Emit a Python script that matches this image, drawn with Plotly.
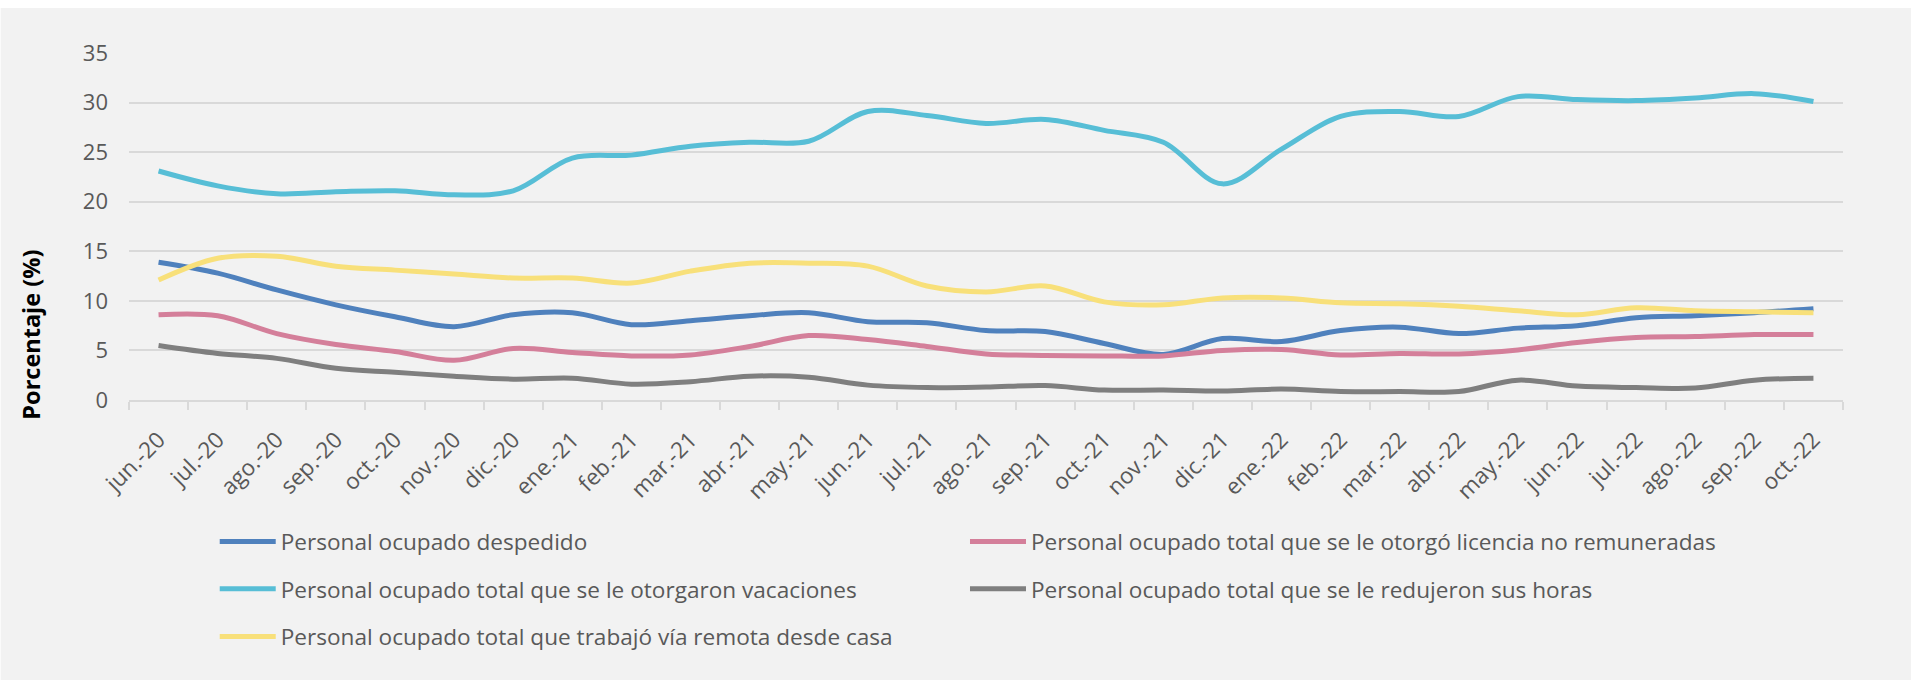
import plotly.graph_objects as go

months = ["jun.-20", "jul.-20", "ago.-20", "sep.-20", "oct.-20", "nov.-20", "dic.-20",
          "ene.-21", "feb.-21", "mar.-21", "abr.-21", "may.-21", "jun.-21", "jul.-21",
          "ago.-21", "sep.-21", "oct.-21", "nov.-21", "dic.-21", "ene.-22", "feb.-22",
          "mar.-22", "abr.-22", "may.-22", "jun.-22", "jul.-22", "ago.-22", "sep.-22", "oct.-22"]

despedido = [13.9, 12.8, 11.1, 9.6, 8.4, 7.4, 8.6, 8.8, 7.6, 8.0, 8.5, 8.8, 7.9, 7.8, 7.0,
             6.9, 5.7, 4.6, 6.2, 5.9, 7.0, 7.35, 6.7, 7.25, 7.5, 8.3, 8.5, 8.8, 9.2]
licencia = [8.6, 8.5, 6.7, 5.6, 4.9, 4.0, 5.2, 4.8, 4.45, 4.55, 5.4, 6.5, 6.1, 5.4, 4.65,
            4.5, 4.45, 4.45, 5.0, 5.1, 4.55, 4.7, 4.65, 5.05, 5.8, 6.3, 6.4, 6.6, 6.6]
vacaciones = [23.1, 21.6, 20.8, 21.0, 21.1, 20.7, 21.1, 24.4, 24.7, 25.6, 26.0, 26.1, 29.1,
              28.7, 27.9, 28.3, 27.2, 26.0, 21.8, 25.3, 28.6, 29.1, 28.6, 30.6, 30.3, 30.2,
              30.45, 30.9, 30.1]
horas = [5.5, 4.7, 4.2, 3.2, 2.8, 2.4, 2.1, 2.2, 1.6, 1.85, 2.4, 2.3, 1.5, 1.25, 1.3,
         1.45, 1.0, 1.0, 0.9, 1.1, 0.85, 0.85, 0.85, 2.0, 1.4, 1.25, 1.2, 2.0, 2.2]
remota = [12.1, 14.3, 14.5, 13.5, 13.1, 12.7, 12.3, 12.3, 11.8, 13.0, 13.8, 13.8, 13.5,
          11.5, 10.9, 11.5, 9.9, 9.6, 10.3, 10.3, 9.8, 9.7, 9.45, 9.0, 8.6, 9.3, 9.0, 8.9, 8.8]

series = [
    ("Personal ocupado despedido", despedido, "#4F81BD", "legend"),
    ("Personal ocupado total que se le otorgó licencia no remuneradas", licencia, "#D47F9A", "legend2"),
    ("Personal ocupado total que se le otorgaron vacaciones", vacaciones, "#57BED6", "legend3"),
    ("Personal ocupado total que se le redujeron sus horas", horas, "#7F7F7F", "legend4"),
    ("Personal ocupado total que trabajó vía remota desde casa", remota, "#F8E07A", "legend5"),
]

# pixel geometry helpers (figure 1911x680)
PL, PR, PT, PB = 129.3, 1842.7, 53.0, 400.0
def xp(px):
    return (px - PL) / (PR - PL)
def yp(py):
    return (PB - py) / (PB - PT)

fig = go.Figure()
for name, vals, color, lg in series:
    fig.add_trace(go.Scatter(
        x=months, y=vals, name=name, mode="lines",
        line=dict(color=color, width=5, shape="spline", smoothing=1.0),
        legend=lg, showlegend=True,
    ))

leg_font = dict(family="Open Sans", size=22.6, color="#595959")
def leg(px, py):
    return dict(x=xp(px), y=yp(py), xanchor="left", yanchor="middle",
                orientation="h", bgcolor="rgba(0,0,0,0)", borderwidth=0,
                font=leg_font, itemwidth=56, visible=True)

fig.update_layout(
    width=1911, height=680, showlegend=True,
    margin=dict(l=PL, r=1911 - PR, t=PT, b=680 - PB, pad=0),
    paper_bgcolor="#F2F2F2", plot_bgcolor="#F2F2F2",
    font=dict(family="Open Sans", size=22, color="#595959"),
    legend=leg(215, 541.7),
    legend2=leg(965, 541.7),
    legend3=leg(215, 589),
    legend4=leg(965, 589),
    legend5=leg(215, 636.7),
    xaxis=dict(
        type="category", tickangle=-45, tickfont=dict(size=22.5, color="#595959"),
        ticks="outside", tickson="boundaries", ticklen=8, tickcolor="#D9D9D9", tickwidth=1.5,
        showline=True, linecolor="#D9D9D9", linewidth=1.5, showgrid=False,
        range=[-0.5, len(months) - 0.5], ticklabelstandoff=16,
    ),
    yaxis=dict(
        range=[0, 35], dtick=5, tick0=0, showgrid=True, gridcolor="#D9D9D9", gridwidth=1.5,
        zeroline=False, showline=False, ticks="", tickfont=dict(size=22, color="#595959"),
        ticklabelstandoff=20,
    ),
    shapes=[
        dict(type="rect", xref="paper", yref="paper", x0=-1, x1=2,
             y0=yp(8), y1=yp(-20), fillcolor="white", line=dict(width=0), layer="below"),
        dict(type="rect", xref="paper", yref="paper", x0=xp(-20), x1=xp(1),
             y0=yp(700), y1=yp(-20), fillcolor="white", line=dict(width=0), layer="below"),
    ],
    annotations=[dict(text="<b>Porcentaje (%)</b>", xref="paper", yref="paper",
                      x=xp(31), y=yp(335), xanchor="center", yanchor="middle",
                      textangle=-90, showarrow=False,
                      font=dict(family="Open Sans", size=23.5, color="black"))],
)

fig.write_html("out.html", config={"displayModeBar": False},
               post_script="document.body.style.margin='0px';")
